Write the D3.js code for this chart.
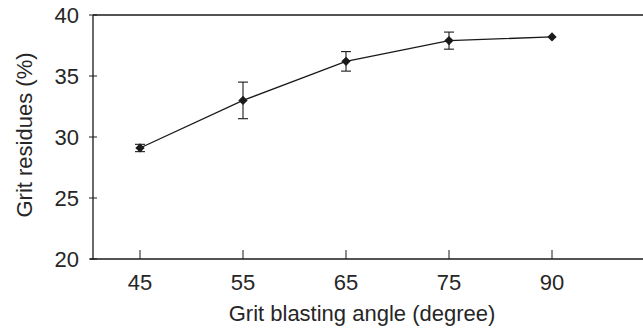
<!DOCTYPE html>
<html><head><meta charset="utf-8">
<script src="https://cdn.jsdelivr.net/npm/d3@7"></script>
<style>body{margin:0;background:#fff}svg{display:block}text{font-family:"Liberation Sans",Arial,sans-serif;fill:#262626}</style>
</head><body>
<svg id="c" width="643" height="333"></svg>
<script>
const categories = ["45","55","65","75","90"];
const values = [29.1, 33.0, 36.2, 37.9, 38.2];
const errors = [0.3, 1.5, 0.8, 0.7, 0];
const yTicks = [20,25,30,35,40];

const svg = d3.select("#c");
const L = 93, T = 15, B = 259, R = 655;
const x = d3.scalePoint().domain(categories).range([140, 552]);
const y = d3.scaleLinear().domain([20,40]).range([B, T]);
const col = "#1a1a1a";

// frame lines
svg.append("line").attr("x1",L).attr("x2",R).attr("y1",T).attr("y2",T).attr("stroke",col).attr("stroke-width",1.3);
svg.append("line").attr("x1",L).attr("x2",L).attr("y1",T).attr("y2",B).attr("stroke",col).attr("stroke-width",1.3);
svg.append("line").attr("x1",L-3).attr("x2",R).attr("y1",B).attr("y2",B).attr("stroke",col).attr("stroke-width",1.3);

// y ticks
const gy = svg.append("g");
gy.selectAll("line").data(yTicks).join("line")
  .attr("x1",L-4).attr("x2",L+4).attr("y1",d=>y(d)).attr("y2",d=>y(d)).attr("stroke",col).attr("stroke-width",1);
gy.selectAll("text").data(yTicks).join("text")
  .attr("x",L-14).attr("y",d=>y(d)).attr("dy","0.36em").attr("text-anchor","end")
  .attr("font-size",22).text(d=>d);

// x ticks
const gx = svg.append("g");
gx.selectAll("line").data(categories).join("line")
  .attr("x1",d=>x(d)).attr("x2",d=>x(d)).attr("y1",B).attr("y2",B-9).attr("stroke",col).attr("stroke-width",1);
gx.selectAll("text").data(categories).join("text")
  .attr("x",d=>x(d)).attr("y",290).attr("text-anchor","middle")
  .attr("font-size",22).text(d=>d);

svg.append("text").attr("x",362).attr("y",321).attr("text-anchor","middle").attr("font-size",22)
  .text("Grit blasting angle (degree)");
svg.append("text").attr("transform","translate(32,135) rotate(-90)").attr("text-anchor","middle").attr("font-size",22)
  .text("Grit residues (%)");

// line
const data = categories.map((c,i)=>({c, v:values[i], e:errors[i]}));
svg.append("path").datum(data)
  .attr("d", d3.line().x(d=>x(d.c)).y(d=>y(d.v)))
  .attr("fill","none").attr("stroke",col).attr("stroke-width",1.3);

// error bars
const eb = svg.append("g").selectAll("g").data(data.filter(d=>d.e>0)).join("g").attr("stroke",col).attr("stroke-width",1.1);
eb.append("line").attr("x1",d=>x(d.c)).attr("x2",d=>x(d.c)).attr("y1",d=>y(d.v-d.e)).attr("y2",d=>y(d.v+d.e));
eb.append("line").attr("x1",d=>x(d.c)-5).attr("x2",d=>x(d.c)+5).attr("y1",d=>y(d.v+d.e)).attr("y2",d=>y(d.v+d.e));
eb.append("line").attr("x1",d=>x(d.c)-5).attr("x2",d=>x(d.c)+5).attr("y1",d=>y(d.v-d.e)).attr("y2",d=>y(d.v-d.e));

// markers
svg.append("g").selectAll("path").data(data).join("path")
  .attr("transform",d=>`translate(${x(d.c)},${y(d.v)})`)
  .attr("d", d3.symbol().type(d3.symbolDiamond2).size(55))
  .attr("fill",col);
</script>
</body></html>
